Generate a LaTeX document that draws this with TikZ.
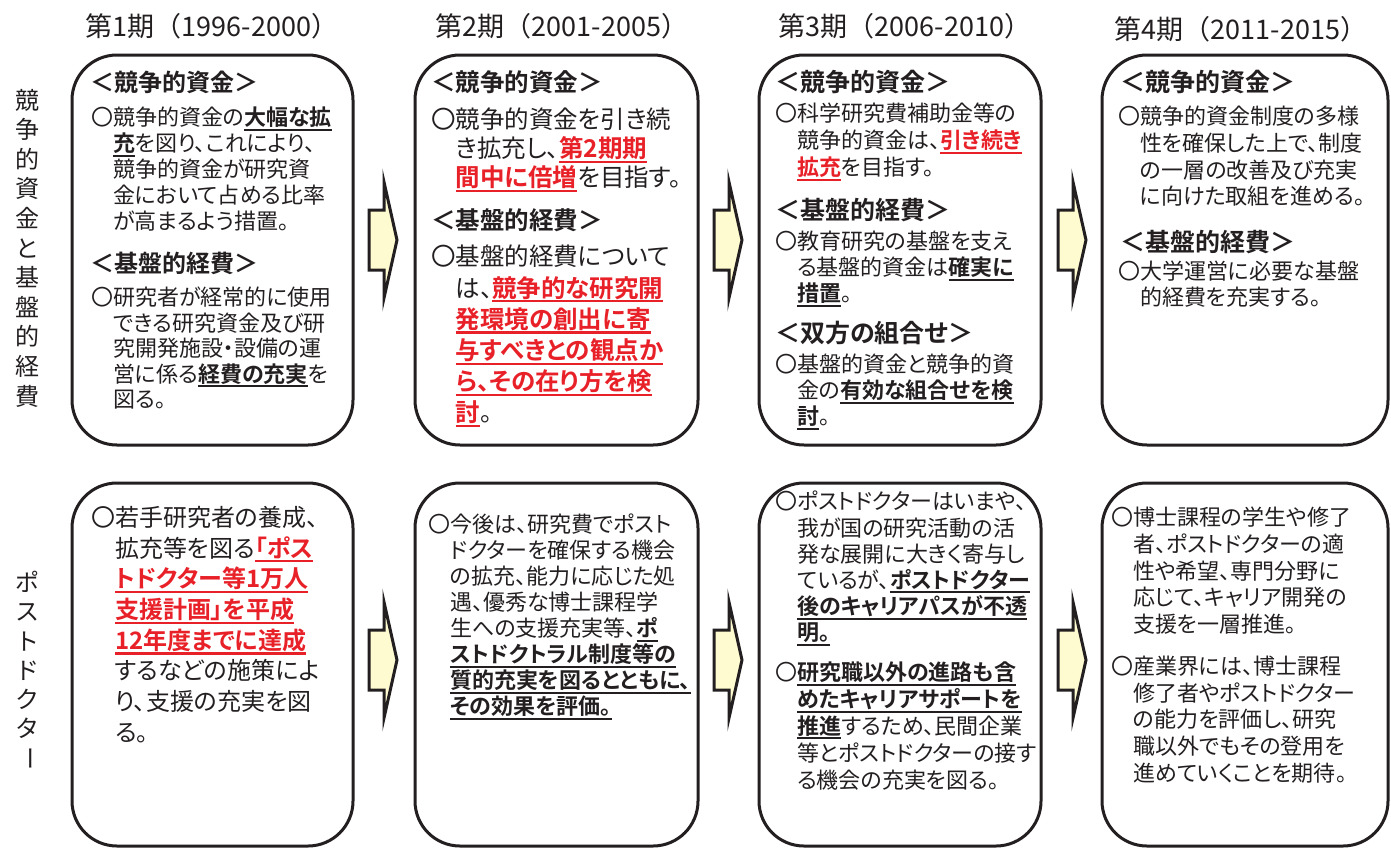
\documentclass[tikz,border=0pt]{standalone}
\usepackage{fontspec}
\usepackage{graphicx}
\setmainfont{Noto Sans CJK JP}[BoldFont={Noto Sans CJK JP Bold},RawFeature=+palt]
\newfontfamily\hdfont{Noto Sans CJK JP}
\definecolor{ink}{RGB}{35,31,32}
\definecolor{jred}{RGB}{232,32,40}
\definecolor{arrowfill}{RGB}{255,251,208}
\newcommand\uln[1]{\setbox0=\hbox{#1}\rlap{\rule[-0.22em]{\wd0}{0.09em}}\box0}
\newcommand\bu[1]{\uln{\bfseries #1}}
\newcommand\ru[1]{{\color{jred}\uln{\bfseries #1}}}
\newcommand\indt{\hspace*{1em}}
\newcommand\mk{〇}
\begin{document}
\begin{tikzpicture}[x=1pt,y=-1pt,
  frame/.style={draw=ink, line width=3pt, rounded corners=45pt, inner sep=0pt},
  tb/.style={anchor=north west, inner sep=0pt, align=left, text=ink, execute at begin node={\rule{0pt}{0.88em}}},
  hd/.style={tb, font=\fontsize{#1}{#1}\selectfont\bfseries},
  bd/.style 2 args={tb, font=\fontsize{#1}{#2}\selectfont},
  hdr/.style={inner sep=0pt, text=ink, font=\hdfont\fontsize{27}{27}\selectfont},
  vlab/.style={align=center, inner sep=0pt, text=ink, font=\hdfont\fontsize{24}{#1}\selectfont},
  barrow/.pic={\draw[line width=3pt, draw=ink, fill=arrowfill, line join=miter] (0,-30) -- (15,-30) -- (15,-58) -- (28,0) -- (15,58) -- (15,30) -- (0,30) -- cycle;}
]
\useasboundingbox (0,0) rectangle (1391,847);

% headers
\node[hdr] (h1) at (212,26) {第1期（1996-2000）};
\node[hdr] (h2) at (562,26) {第2期（2001-2005）};
\node[hdr] (h3) at (905,26) {第3期（2006-2010）};
\node[hdr] (h4) at (1241,29) {第4期（2011-2015）};

% row labels
\node[vlab=29.6] (v1) at (27,248) {競\\争\\的\\資\\金\\と\\基\\盤\\的\\経\\費};
\node[vlab=29.2] (v2) at (27,671) {ポ\\ス\\ト\\ド\\ク\\タ\\\raisebox{0.12em}{\rotatebox[origin=c]{-90}{ー}}};

% boxes
\node[frame, minimum width=281pt, minimum height=390pt] (b1) at (212.5,250) {};
\node[frame, minimum width=283pt, minimum height=390pt] (b2) at (556.5,250) {};
\node[frame, minimum width=282pt, minimum height=390pt] (b3) at (900,250) {};
\node[frame, minimum width=286pt, minimum height=390pt] (b4) at (1245,250) {};
\node[frame, minimum width=281pt, minimum height=363pt] (b5) at (212.5,664.5) {};
\node[frame, minimum width=283pt, minimum height=363pt] (b6) at (556.5,664.5) {};
\node[frame, minimum width=282pt, minimum height=363pt] (b7) at (900,664.5) {};
\node[frame, minimum width=286pt, minimum height=363pt] (b8) at (1245,664.5) {};

% arrows
\pic (a1) at (369,240) {barrow};
\pic (a2) at (714,240) {barrow};
\pic (a3) at (1058,240) {barrow};
\pic (a4) at (369,660) {barrow};
\pic (a5) at (714,660) {barrow};
\pic (a6) at (1058,660) {barrow};

% box 1
\node[hd=24] (t1a) at (90,70) {＜競争的資金＞};
\node[bd={22}{26}] (t1b) at (91,107) {\mk 競争的資金の\bu{大幅な拡}\\\indt\bu{充}を図り、これにより、\\\indt 競争的資金が研究資\\\indt 金において占める比率\\\indt が高まるよう措置。};
\node[hd=24] (t1c) at (90,251) {＜基盤的経費＞};
\node[bd={22}{25.5}] (t1d) at (91,287) {\mk 研究者が経常的に使用\\\indt できる研究資金及び研\\\indt 究開発施設・設備の運\\\indt 営に係る\bu{経費の充実}を\\\indt 図る。};

% box 2
\node[hd=24.5] (t2a) at (431,70) {＜競争的資金＞};
\node[bd={24.5}{29}] (t2b) at (431,108) {\mk 競争的資金を引き続\\\indt き拡充し、\ru{第2期期}\\\indt\ru{間中に倍増}を目指す。};
\node[hd=24.5] (t2c) at (431,208) {＜基盤的経費＞};
\node[bd={24.5}{31.2}] (t2d) at (431,245) {\mk 基盤的経費について\\\indt は、\ru{競争的な研究開}\\\indt\ru{発環境の創出に寄}\\\indt\ru{与すべきとの観点か}\\\indt\ru{ら、その在り方を検}\\\indt\ru{討}。};

% box 3
\node[hd=25] (t3a) at (775,69.5) {＜競争的資金＞};
\node[bd={22}{27}] (t3b) at (775,103) {\mk 科学研究費補助金等の\\\indt 競争的資金は、\ru{引き続き}\\\indt\ru{拡充}を目指す。};
\node[hd=25] (t3c) at (775,197.5) {＜基盤的経費＞};
\node[bd={22}{26}] (t3d) at (775,231) {\mk 教育研究の基盤を支え\\\indt る基盤的資金は\bu{確実に}\\\indt\bu{措置}。};
\node[hd=25] (t3e) at (775,320.5) {＜双方の組合せ＞};
\node[bd={22}{26}] (t3f) at (775,354) {\mk 基盤的資金と競争的資\\\indt 金の\bu{有効な組合せを検}\\\indt\bu{討}。};

% box 4
\node[hd=25] (t4a) at (1120,69.5) {＜競争的資金＞};
\node[bd={22}{26.7}] (t4b) at (1118,106) {\mk 競争的資金制度の多様\\\indt 性を確保した上で、制度\\\indt の一層の改善及び充実\\\indt に向けた取組を進める。};
\node[hd=25] (t4c) at (1120,229.5) {＜基盤的経費＞};
\node[bd={22}{26}] (t4d) at (1118,261) {\mk 大学運営に必要な基盤\\\indt 的経費を充実する。};

% box 5
\node[bd={24}{30.7}] (t5) at (91,506) {\mk 若手研究者の養成、\\\indt 拡充等を図る\ru{「ポス}\\\indt\ru{トドクター等1万人}\\\indt\ru{支援計画」を平成}\\\indt\ru{12年度までに達成}\\\indt するなどの施策によ\\\indt り、支援の充実を図\\\indt る。};

% box 6
\node[bd={22}{26}] (t6) at (428,514) {\mk 今後は、研究費でポスト\\\indt ドクターを確保する機会\\\indt の拡充、能力に応じた処\\\indt 遇、優秀な博士課程学\\\indt 生への支援充実等、\bu{ポ}\\\indt\bu{ストドクトラル制度等の}\\\indt\bu{質的充実を図るとともに、}\\\indt\bu{その効果を評価。}};

% box 7
\node[bd={22}{26.2}] (t7a) at (775,491) {\mk ポストドクターはいまや、\\\indt 我が国の研究活動の活\\\indt 発な展開に大きく寄与し\\\indt ているが、\bu{ポストドクター}\\\indt\bu{後のキャリアパスが不透}\\\indt\bu{明。}};
\node[bd={22}{26.8}] (t7b) at (775,662) {\mk\bu{研究職以外の進路も含}\\\indt\bu{めたキャリアサポートを}\\\indt\bu{推進}するため、民間企業\\\indt 等とポストドクターの接す\\\indt る機会の充実を図る。};

% box 8
\node[bd={22}{26.7}] (t8a) at (1111,507) {\mk 博士課程の学生や修了\\\indt 者、ポストドクターの適\\\indt 性や希望、専門分野に\\\indt 応じて、キャリア開発の\\\indt 支援を一層推進。};
\node[bd={22}{26.6}] (t8b) at (1111,656) {\mk 産業界には、博士課程\\\indt 修了者やポストドクター\\\indt の能力を評価し、研究\\\indt 職以外でもその登用を\\\indt 進めていくことを期待。};
\end{tikzpicture}
\end{document}
